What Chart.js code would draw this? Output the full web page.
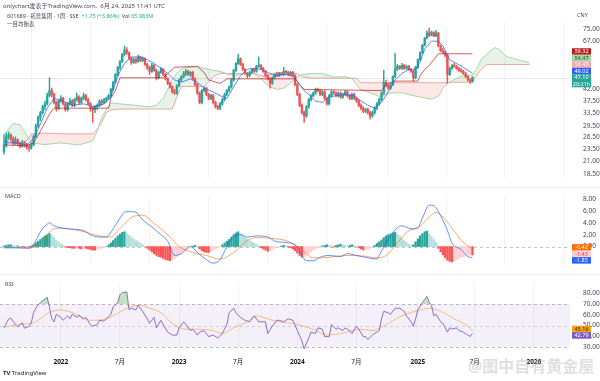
<!DOCTYPE html>
<html><head><meta charset="utf-8">
<script src="https://cdn.jsdelivr.net/npm/chart.js@4.4.1/dist/chart.umd.min.js"></script>
<style>
html,body{margin:0;padding:0;background:#fff;}
#wrap{position:relative;width:600px;height:381px;overflow:hidden;font-family:"Noto Sans","Noto Sans CJK SC",sans-serif;background:#fff;}
canvas{position:absolute;left:0;}
.t{position:absolute;white-space:nowrap;color:#131722;line-height:8px;}
.sep{position:absolute;left:0;width:600px;height:1px;background:#eceef2;}
</style></head><body>
<div id="wrap">
<canvas id="c1" width="600" height="187" style="top:0"></canvas>
<canvas id="c2" width="600" height="87" style="top:187px"></canvas>
<canvas id="c3" width="600" height="107" style="top:274px"></canvas>
<div class="sep" style="top:187px"></div>
<div class="sep" style="top:274px"></div>
<div class="t" style="left:3px;top:2px;font-size:6px;color:#434651">onlychart发表于TradingView.com,&nbsp; 6月 24, 2025 11:41 UTC</div>
<div class="t" style="left:7px;top:12px;font-size:5.5px;color:#434651">601689 · 拓普集团 · 1周 · SSE&nbsp;&nbsp;<span style="color:#22ab94">+1.75 (+3.86%)</span>&nbsp;&nbsp;Vol <span style="color:#22ab94">65.983M</span></div>
<div class="t" style="left:7px;top:20px;font-size:5.5px;color:#434651">一目均衡表</div>
<div class="t" style="left:577px;top:11px;font-size:5.5px;color:#434651">CNY</div>
<div class="t" style="left:5px;top:192px;font-size:5.5px;color:#434651">MACD</div>
<div class="t" style="left:5px;top:280px;font-size:5.5px;color:#434651">RSI</div>
<div class="t" style="left:3px;top:369px;font-size:6px;font-weight:bold;color:#131722">TV <span style="font-weight:normal">TradingView</span></div>
<div class="t" style="left:468px;top:356px;font-size:16px;line-height:20px;font-weight:bold;color:rgba(175,175,175,0.4)">@图中自有黄金屋</div>
</div>
<script>
// ---------- candles (weekly, week index = array position) ----------
const opens = [
23.0,24.5,26.5,27.0,26.0,25.0,25.8,24.8,24.2,25.0,
24.5,24.0,23.8,24.5,26.5,29.5,32.0,33.5,35.5,36.5,
39.5,41.5,40.0,37.0,35.0,37.5,38.5,36.5,34.5,36.5,
37.5,36.0,38.0,39.0,37.0,38.5,39.5,38.0,36.5,35.0,
34.5,35.5,36.0,37.5,37.0,38.0,38.5,39.5,42.0,45.0,
48.5,52.0,55.0,59.0,61.5,60.0,57.0,54.5,56.0,55.0,
57.5,55.5,56.5,53.5,52.0,50.0,53.0,50.5,47.0,49.5,
51.0,48.5,46.5,44.5,43.0,41.0,40.5,43.5,46.0,47.5,
49.0,50.0,48.5,49.5,46.5,44.0,40.5,37.0,41.5,42.5,
40.0,38.5,39.5,37.0,35.5,35.0,36.5,38.0,40.0,41.5,
43.0,46.0,50.5,54.0,56.5,53.5,51.0,49.0,48.0,49.5,
51.0,50.0,52.5,53.0,51.5,50.0,48.0,46.5,44.5,47.0,
48.5,48.0,49.0,48.5,50.0,49.5,48.5,49.5,48.0,44.0,
40.0,36.0,33.5,32.5,35.5,38.0,39.5,40.5,42.0,41.5,
40.0,41.0,38.5,36.5,39.5,41.0,40.5,39.5,40.5,39.0,
40.0,41.0,39.5,38.5,40.0,38.5,37.5,36.0,35.0,34.0,
34.5,33.5,32.5,33.5,35.0,36.5,38.0,40.5,45.0,43.5,
42.5,44.0,47.5,51.0,52.5,51.5,53.0,51.5,52.5,51.0,
50.0,47.0,52.0,56.0,60.0,64.5,69.0,72.5,71.0,73.0,
70.5,72.5,64.0,61.0,60.0,58.5,48.5,51.5,53.0,52.5,
51.5,50.5,50.0,49.0,47.5,46.0,45.35];
const highs = [
27.0,27.5,27.8,27.3,26.5,26.5,26.0,25.2,25.6,25.4,
24.9,24.6,25.0,27.0,30.0,32.5,34.0,36.0,37.5,40.5,
47.0,42.5,40.5,37.5,38.0,39.5,39.0,37.0,37.0,38.5,
38.0,38.5,40.5,39.5,39.0,40.5,40.0,38.5,37.0,35.5,
36.0,36.5,38.0,38.0,38.5,39.0,40.0,42.5,45.5,49.0,
52.5,55.5,59.5,64.0,63.0,60.5,57.5,57.0,57.0,58.5,
58.0,57.5,57.0,54.0,52.5,54.0,53.5,51.0,50.0,52.0,
51.5,49.0,47.0,45.0,43.5,42.0,44.0,46.5,48.0,50.0,
51.0,50.5,50.0,50.0,47.0,44.5,41.0,42.0,43.0,43.0,
40.5,40.0,40.0,37.5,36.0,37.0,38.5,40.5,42.0,43.5,
46.5,51.0,54.5,59.0,57.0,54.0,51.5,49.5,50.0,51.5,
51.5,53.0,57.5,53.5,52.0,50.5,48.5,47.0,47.5,49.0,
49.5,49.5,49.5,52.0,50.5,50.0,50.0,50.0,48.5,44.5,
40.5,36.5,34.0,36.0,38.5,40.0,41.0,42.5,42.5,42.0,
41.5,41.5,39.0,40.0,41.5,41.5,41.0,41.0,41.0,40.5,
41.5,41.5,40.0,40.5,40.5,39.0,38.0,36.5,35.5,35.0,
35.0,34.0,34.0,35.5,37.0,38.5,41.0,50.5,46.0,44.0,
44.5,48.0,59.5,53.5,53.0,54.0,53.5,53.0,53.0,51.5,
50.5,52.5,56.5,60.5,65.0,69.5,74.0,76.0,74.0,73.5,
74.5,73.0,64.5,62.5,61.0,59.0,52.0,53.5,54.0,53.0,
52.0,51.5,50.5,49.5,48.0,46.5,47.5];
const lows = [
22.4,24.0,25.8,25.5,24.5,24.6,24.3,23.8,24.0,24.0,
23.5,23.0,23.5,24.3,26.3,29.0,31.0,33.0,34.5,36.0,
39.0,39.0,36.5,34.0,34.5,37.0,36.0,34.0,34.0,36.0,
35.5,35.5,37.5,36.5,36.5,38.0,37.5,36.0,34.0,30.5,
33.5,34.5,35.5,36.0,36.5,37.0,38.0,39.0,41.5,44.5,
48.0,51.0,54.5,58.0,59.0,56.0,53.5,54.0,54.0,54.5,
55.0,55.0,53.0,51.0,48.5,49.5,50.0,46.0,46.5,49.0,
48.0,46.0,44.0,42.5,40.5,40.0,40.0,43.0,45.5,47.0,
48.0,48.0,47.5,46.0,43.5,40.0,36.5,36.5,41.0,39.5,
38.0,38.0,36.5,35.0,34.5,34.5,36.0,37.5,39.5,41.0,
42.5,45.5,50.0,53.5,53.0,50.5,48.5,47.0,47.5,49.0,
49.5,49.5,52.0,51.0,49.5,47.5,46.0,42.5,44.0,46.5,
47.5,47.5,48.0,48.0,49.0,48.0,48.0,47.5,43.5,39.5,
35.5,33.0,30.5,32.0,35.0,37.5,39.0,40.0,41.0,39.5,
39.5,38.0,36.0,36.0,39.0,40.0,39.0,39.0,38.5,38.5,
39.5,39.0,38.0,38.0,38.0,37.0,35.5,34.5,33.5,33.5,
33.0,31.5,32.0,33.0,34.5,36.0,37.5,40.0,43.0,42.0,
42.0,43.5,47.0,50.5,51.0,51.0,51.0,51.0,50.5,49.5,
45.5,46.5,51.5,55.5,59.5,64.0,68.5,70.0,70.5,70.0,
70.0,63.5,60.5,59.5,57.5,44.5,48.0,51.0,52.0,51.0,
50.0,49.5,48.5,47.0,45.5,44.5,45.0];
const closes = [
24.5,26.5,27.0,26.0,25.0,25.8,24.8,24.2,25.0,24.5,
24.0,23.8,24.5,26.5,29.5,32.0,33.5,35.5,36.5,39.5,
41.5,40.0,37.0,35.0,37.5,38.5,36.5,34.5,36.5,37.5,
36.0,38.0,39.0,37.0,38.5,39.5,38.0,36.5,35.0,34.5,
35.5,36.0,37.5,37.0,38.0,38.5,39.5,42.0,45.0,48.5,
52.0,55.0,59.0,61.5,60.0,57.0,54.5,56.0,55.0,57.5,
55.5,56.5,53.5,52.0,50.0,53.0,50.5,47.0,49.5,51.0,
48.5,46.5,44.5,43.0,41.0,40.5,43.5,46.0,47.5,49.0,
50.0,48.5,49.5,46.5,44.0,40.5,37.0,41.5,42.5,40.0,
38.5,39.5,37.0,35.5,35.0,36.5,38.0,40.0,41.5,43.0,
46.0,50.5,54.0,56.5,53.5,51.0,49.0,48.0,49.5,51.0,
50.0,52.5,53.0,51.5,50.0,48.0,46.5,44.5,47.0,48.5,
48.0,49.0,48.5,50.0,49.5,48.5,49.5,48.0,44.0,40.0,
36.0,33.5,32.5,35.5,38.0,39.5,40.5,42.0,41.5,40.0,
41.0,38.5,36.5,39.5,41.0,40.5,39.5,40.5,39.0,40.0,
41.0,39.5,38.5,40.0,38.5,37.5,36.0,35.0,34.0,34.5,
33.5,32.5,33.5,35.0,36.5,38.0,40.5,45.0,43.5,42.5,
44.0,47.5,51.0,52.5,51.5,53.0,51.5,52.5,51.0,50.0,
47.0,52.0,56.0,60.0,64.5,69.0,72.5,71.0,73.0,70.5,
72.5,64.0,61.0,60.0,58.5,48.5,51.5,53.0,52.5,51.5,
50.5,50.0,49.0,47.5,46.0,45.35,47.10];

// ---------- Ichimoku (sparse weeks) ----------
const tenkanWeeks = [0,5,10,13,16,19,22,26,30,35,40,44,47,49,51,53,56,60,63,66,69,72,75,78,82,85,88,92,95,98,101,104,107,110,113,116,119,122,125,128,130,132,134,137,140,143,146,150,154,157,160,163,166,169,172,175,178,181,183,185,188,191,193,196,199,202,206];
const tenkanVals = [25.3,25,24.5,26,30,35,38.5,37.5,36,36.5,35.5,36.5,39,45,50,54,57.5,57.5,56,54,51.5,49,46,45,46.5,45,42.5,41,39.5,38.5,43,48,51,51.5,51,49.5,48,48.5,48.5,47,44,41.5,40,37.5,37,39,39.5,40,39.5,37.5,36,35,37,41,46,49,51,51,55,62,67,67,64,56,54,52,49.02];
const kijunWeeks = [0,10,13,16,20,22,46,47,49,51,70,72,75,85,88,90,95,98,128,130,132,166,168,172,182,183,185,187,189,191,206];
const kijunVals = [24.5,24.3,25,28,33,35,35,38.5,41.5,47,47,49,52,52.5,49.5,46,44.5,46.5,46.5,44,42,41.5,44,45.5,45.5,48,51,53,56,59.32,59.32];
const cloudWeeks = [0,4,7,10,12,18,25,33,39,41,43,45,47,51,60,64,67,70,72,74,76,78,80,85,88,90,92,95,99,102,106,110,113,115,117,120,123,126,129,131,135,140,145,150,153,155,157,160,165,170,175,180,185,188,191,193,195,197,200,203,206,208,210,212,213,216,218,221,224,227,231];
const spanA = [27.0,30.2,29.8,27.0,25.0,24.6,25.0,24.5,25.5,28.0,32.0,34.5,36.8,36.5,35.8,35.5,36.0,38.5,42.0,46.0,49.0,51.0,52.0,52.3,51.5,51.0,50.5,50.0,48.5,48.0,49.0,48.7,46.5,44.5,43.0,42.0,42.5,44.7,47.3,48.5,49.0,49.0,47.3,47.5,46.7,44.0,41.7,41.0,39.2,40.5,40.7,39.5,38.7,38.2,39.2,42.5,44.5,45.7,47.2,48.2,48.2,51.5,56.5,58.5,60.0,63.0,61.5,57.7,56.7,55.6,54.47];
const spanB = [24.8,24.8,25.0,25.5,27.3,27.5,27.3,27.3,27.3,28.5,30.5,33.5,34.5,34.7,34.7,34.7,34.7,34.7,34.7,34.7,39.0,43.2,43.2,43.2,43.2,45.2,47.5,49.0,49.0,49.0,49.0,49.0,48.0,47.2,48.8,49.3,49.3,49.3,49.0,47.5,46.8,46.8,46.8,46.8,46.8,46.8,44.8,44.8,44.8,44.8,44.8,44.8,44.8,44.8,44.8,44.8,44.8,45.0,45.0,45.0,45.0,48.5,51.0,53.2,53.45,53.45,53.45,53.45,53.45,53.45,53.45];

// ---------- MACD ----------
const macdWeeks = [0,5,11,13,16,19,20,22,28,35,38,42,45,48,51,53,55,58,61,66,69,72,75,78,82,85,89,92,95,98,101,104,107,111,116,120,124,129,131,133,136,139,143,148,151,155,160,164,165,168,171,175,179,182,184,187,189,192,195,197,201,204,206];
const macdVals = [-0.2,-0.2,-0.3,0.3,2.5,3.8,4.0,3.5,3.0,2.7,2.0,1.6,1.6,3.0,4.8,5.8,5.9,5.8,4.5,3.0,2.0,0.9,-1.5,-1.2,0.0,-1.0,-2.2,-2.8,-2.2,-0.1,1.7,2.0,1.6,1.8,1.6,0.8,0.7,-0.1,-1.5,-2.4,-2.4,-1.8,-1.5,-1.7,-1.2,-1.5,-1.9,-2.1,-1.5,0.6,2.4,3.5,3.0,3.2,4.8,7.0,6.9,5.2,2.7,0.6,-0.5,-1.7,-1.85];
const signalWeeks = [0,11,16,19,22,25,33,42,47,51,57,61,66,72,77,83,89,95,101,107,111,117,124,130,133,136,140,145,151,158,164,168,173,177,183,187,190,193,197,202,206];
const signalVals = [-0.2,-0.2,0.3,2.0,3.0,3.1,2.7,1.8,1.6,3.1,5.1,5.3,3.9,2.0,0.0,-1.0,-1.5,-2.1,-1.0,1.0,1.5,1.4,1.0,-0.2,-1.2,-1.9,-1.9,-1.7,-1.5,-1.6,-1.9,-1.5,0.6,2.4,3.4,5.0,5.8,5.0,3.1,0.7,-0.42];
const histVals = [
0.1,0.2,0.3,0.3,0.2,
0.1,0.1,0.05,-0.05,-0.1,-0.05,-0.1,
0.1,0.3,0.6,0.9,1.2,1.5,1.8,2.0,2.2,
1.9,1.5,1.1,0.8,0.5,0.2,
-0.1,-0.2,-0.2,-0.3,-0.3,-0.2,-0.3,-0.4,-0.3,-0.3,-0.4,-0.5,-0.6,-0.6,-0.5,-0.4,-0.3,-0.2,0.0,
0.3,0.6,1.0,1.4,1.8,2.1,
2.4,2.5,
2.2,1.9,1.6,1.3,1.0,0.8,0.6,0.3,0.1,
-0.3,-0.6,-0.9,-1.2,-1.5,-1.7,-1.8,-2.0,-2.2,-2.3,
-2.4,-2.2,-2.0,
-1.7,-1.4,-1.1,-0.8,-0.5,-0.3,-0.1,0.1,
0.2,0.1,
-0.4,-0.7,-0.9,-1.0,-1.0,-0.8,
-0.6,-0.4,-0.2,-0.05,
0.3,0.6,0.9,1.2,1.6,2.0,2.3,2.5,2.2,
1.9,1.6,1.3,1.0,0.8,0.6,0.4,0.2,
-0.2,-0.4,-0.6,-0.8,-0.7,
-0.5,-0.3,-0.2,-0.1,0.1,
0.2,0.1,-0.1,-0.2,
-0.4,-0.7,-1.1,-1.5,-1.8,
-1.7,-1.5,
-1.2,-0.9,-0.6,-0.4,-0.2,-0.1,
0.1,0.2,0.3,0.2,0.1,-0.1,0.2,0.3,0.4,0.3,0.2,0.1,0.2,0.3,0.2,0.1,-0.2,-0.4,-0.6,-0.5,-0.4,
-0.3,-0.1,0.2,
0.5,0.8,1.1,1.5,1.8,2.0,2.1,2.3,2.4,
2.1,1.8,1.4,1.0,0.7,0.4,0.2,
0.3,0.8,1.3,1.8,2.2,2.5,2.6,
2.2,1.7,1.2,0.7,
-0.3,-0.9,-1.4,-1.9,-2.3,-2.5,-2.6,
-2.4,-2.2,-2.0,-1.8,-1.7,-1.6,-1.5,-1.4,-1.43];

// ---------- RSI ----------
const rsiWeeks = [0,2,3,5,6,8,9,11,12,13,14,15,16,17,19,20,21,22,23,25,26,28,29,30,32,33,35,36,38,39,41,42,44,45,47,48,50,51,52,54,55,56,58,59,61,63,64,66,67,69,70,72,74,76,77,79,80,82,83,85,86,88,90,92,94,96,98,99,101,102,104,106,108,110,112,115,116,118,120,121,123,125,127,129,131,132,134,135,137,138,140,141,143,144,146,147,149,150,152,153,155,156,158,159,160,162,163,165,166,167,169,170,172,174,176,177,179,180,181,182,184,185,186,187,188,189,190,192,193,195,196,197,199,200,202,204,205,206];
const rsiVals = [48,56,57,51,48.8,52.6,47.6,49.3,52.6,62,66,69,71,73,76,67,56.2,53.5,60.4,57.6,54.9,59,56.2,60.4,57.6,59.5,56.2,57.6,50.9,49.5,50.9,54.9,54.1,56.2,60.4,67.2,71.3,78.3,80.4,81,64.5,66,64.5,68.6,63.1,56.2,52.1,57.6,48,54.9,50.9,44,41.3,41.3,48,53.5,50.9,45.4,46.7,41.3,44,45.4,39.9,41.3,38.6,42.7,50.9,61.8,66,61.8,57.6,54.9,53.5,59,53.5,53.5,42.7,49.5,54.9,54.9,53.5,56.2,54.9,45.4,35.9,28.7,38.6,44,42.7,48,46.7,39.9,39.9,50.9,46.7,48,45.4,48,45.4,42.7,49.5,46.7,39.9,39.9,37.2,41.3,42.7,45.4,56.2,63.1,61.8,60.4,66,66,63.1,59,53.5,49.5,56.2,64.5,71.4,74.1,76.9,71.4,68.6,59,60.4,53.5,52.1,44,48,46.7,48,45.4,44,41.3,39.9,42.79];
const rsiMaWeeks = [0,6,13,20,25,30,38,42,48,54,60,64,69,74,80,86,92,96,101,107,111,116,121,127,129,136,142,148,157,162,168,175,183,187,192,198,204,206];
const rsiMaVals = [48.5,51,52.6,62.2,64.5,62,54.9,55,59,66,68.6,66,61.8,52,46.7,46.7,45.4,42.7,48,53.5,59,56.2,53.5,52,51,46.7,41.3,42.7,46.7,45.4,50.9,59,64.5,66,63.1,56.2,49.5,45.16];

// ---------- axes ----------
const xTickWeeks = [25,51,77,103,129,155,182,207,233];
const xTickLabels = ['2022','7月','2023','7月','2024','7月','2025','7月','2026'];
const priceTicks = [18.5,21,23.5,26.5,29.5,33.5,37.5,42,67,75];
const macdTicks = [0,2,4,6,8];
const rsiTicks = [30,40,50,60,70,80];
const countdownText = '20:21h';

Chart.defaults.font.family = '"Noto Sans","Noto Sans CJK SC",sans-serif';
const UP = '#26a69a', DN = '#ef5350';
const pts = (ws, vs) => ws.map((w, i) => ({x: w, y: vs[i]}));
const candleColor = ctx => closes[ctx.dataIndex] >= opens[ctx.dataIndex] ? UP : DN;

function xScale(show){
  return {type:'linear', min:-1.76, max:248.9, offset:false,
    grid:{color:'#f2f3f6', drawTicks:false, lineWidth:1},
    border:{display:false},
    afterBuildTicks: s => { s.ticks = xTickWeeks.map(v => ({value:v})); },
    ticks:{display:show, autoSkip:false, maxRotation:0, padding:5, color:'#131722',
      font: c => ({size:6.5, weight: /^\d{4}$/.test(xTickLabels[c.index]) ? 'bold' : 'normal'}),
      callback: (v, i) => xTickLabels[i]},
    afterFit: s => { s.height = show ? 28 : 0; }
  };
}
function yScale(extra, ticks){
  return Object.assign({position:'right', grid:{display:false}, border:{display:false},
    afterBuildTicks: s => { s.ticks = ticks.map(v => ({value:v})); },
    ticks:{autoSkip:false, padding:5, color:'#434651', font:{size:6.5}, callback: v => Number(v).toFixed(2)},
    afterFit: s => { s.width = 30; }}, extra);
}
function labelsPlugin(id, items, mode){
  return {id, afterDraw(chart){
    const ys = chart.scales.y, ctx = chart.ctx, h = 6.5;
    const arr = items.map(it => Object.assign({}, it, {y: ys.getPixelForValue(it.v)})).sort((a,b) => a.y - b.y);
    if (mode === 'up') {
      for (let i = arr.length - 2; i >= 0; i--) if (arr[i].y > arr[i+1].y - h) arr[i].y = arr[i+1].y - h;
    } else {
      const m0 = arr.reduce((s,a) => s + a.y, 0) / arr.length;
      for (let i = 1; i < arr.length; i++) if (arr[i].y < arr[i-1].y + h) arr[i].y = arr[i-1].y + h;
      const m1 = arr.reduce((s,a) => s + a.y, 0) / arr.length;
      arr.forEach(a => a.y += m0 - m1);
    }
    ctx.save();
    ctx.font = '5.5px "Noto Sans"'; ctx.textAlign = 'center'; ctx.textBaseline = 'middle';
    const x0 = chart.chartArea.right + 2, w = 19;
    arr.forEach(a => {
      const hh = a.extra ? 2*h : h;
      ctx.fillStyle = a.bg; ctx.fillRect(x0, a.y - h/2, w, hh);
      ctx.fillStyle = a.fg; ctx.fillText(a.v.toFixed(2), x0 + w/2, a.y + 0.3);
      if (a.extra) ctx.fillText(a.extra, x0 + w/2, a.y + h + 0.3);
    });
    ctx.restore();
  }};
}
function hLine(chart, v, color, dash){
  const y = chart.scales.y.getPixelForValue(v), a = chart.chartArea, ctx = chart.ctx;
  ctx.save(); ctx.strokeStyle = color; ctx.lineWidth = 1; ctx.setLineDash(dash);
  ctx.beginPath(); ctx.moveTo(a.left, Math.round(y) + 0.5); ctx.lineTo(a.right, Math.round(y) + 0.5); ctx.stroke(); ctx.restore();
}
const common = {responsive:false, animation:false, events:[], plugins:{legend:{display:false}, tooltip:{enabled:false}}};
const line = (data, color, order, extra) => Object.assign({type:'line', data, borderColor:color, borderWidth:1, pointRadius:0, tension:0, fill:false, order}, extra || {});

// ---------- main chart ----------
new Chart(document.getElementById('c1'), {
  type:'bar',
  data:{datasets:[
    line(pts(cloudWeeks, spanA), '#a5d6a7', 10, {fill:{target:'+1', above:'rgba(67,160,71,0.13)', below:'rgba(244,67,54,0.12)'}}),
    line(pts(cloudWeeks, spanB), '#f4a9a9', 11),
    {type:'bar', data: opens.map((o,i) => ({x:i, y:[lows[i], highs[i]]})), backgroundColor:candleColor, barThickness:0.8, grouped:false, borderWidth:0, order:6},
    {type:'bar', data: opens.map((o,i) => ({x:i, y:[o, closes[i]]})), backgroundColor:candleColor, barThickness:1.7, grouped:false, borderWidth:0, minBarLength:0.8, order:5},
    line(pts(kijunWeeks, kijunVals), 'rgba(183,28,28,0.7)', 2),
    line(pts(tenkanWeeks, tenkanVals), 'rgba(41,98,255,0.75)', 1)
  ]},
  options:Object.assign({}, common, {layout:{padding:{top:22, bottom:0, left:0, right:0}},
    scales:{x:xScale(false), y:yScale({type:'logarithmic', min:17.77, max:80.7}, priceTicks)}}),
  plugins:[
    {id:'priceLine', beforeDatasetsDraw(c){ hLine(c, closes[closes.length-1], 'rgba(120,123,134,0.18)', []); }},
    labelsPlugin('mainLabels', [
      {v:kijunVals[kijunVals.length-1], bg:'#b71c1c', fg:'#fff'},
      {v:spanA[spanA.length-1], bg:'#a5d6a7', fg:'#1b5e20'},
      {v:spanB[spanB.length-1], bg:'#f4a9a9', fg:'#fff'},
      {v:tenkanVals[tenkanVals.length-1], bg:'#2962ff', fg:'#fff'},
      {v:closes[closes.length-1], bg:'#26a69a', fg:'#fff', extra:countdownText}
    ], 'up')
  ]
});

// ---------- MACD ----------
const histColor = ctx => { const i = ctx.dataIndex, v = histVals[i], p = i > 0 ? histVals[i-1] : 0;
  return v >= 0 ? (v >= p ? '#26a69a' : '#b2dfdb') : (v <= p ? '#ff5252' : '#ffcdd2'); };
new Chart(document.getElementById('c2'), {
  type:'bar',
  data:{datasets:[
    line(pts(macdWeeks, macdVals), 'rgba(41,98,255,0.7)', 1, {cubicInterpolationMode:'monotone'}),
    line(pts(signalWeeks, signalVals), 'rgba(255,109,0,0.6)', 2, {cubicInterpolationMode:'monotone'}),
    {type:'bar', data: histVals.map((v,i) => ({x:i, y:v})), backgroundColor:histColor, barThickness:1.6, grouped:false, borderWidth:0, order:3}
  ]},
  options:Object.assign({}, common, {layout:{padding:{top:1, bottom:2, left:0, right:0}},
    scales:{x:xScale(false), y:yScale({type:'linear', min:-3.13, max:8.55}, macdTicks)}}),
  plugins:[
    {id:'zero', beforeDatasetsDraw(c){ hLine(c, 0, 'rgba(120,123,134,0.45)', [3,3]); }},
    labelsPlugin('macdLabels', [
      {v:signalVals[signalVals.length-1], bg:'#ff6d00', fg:'#fff'},
      {v:histVals[histVals.length-1], bg:'#ffcdd2', fg:'#e53935'},
      {v:macdVals[macdVals.length-1], bg:'#2962ff', fg:'#fff'}
    ], 'center')
  ]
});

// ---------- RSI ----------
new Chart(document.getElementById('c3'), {
  type:'line',
  data:{datasets:[
    line(pts(rsiWeeks, rsiVals), 'rgba(126,87,194,0.85)', 1, {fill:{target:{value:70}, above:'rgba(76,175,80,0.35)', below:'rgba(0,0,0,0)'}}),
    line(pts(rsiMaWeeks, rsiMaVals), 'rgba(245,170,90,0.75)', 2, {cubicInterpolationMode:'monotone'})
  ]},
  options:Object.assign({}, common, {layout:{padding:{top:1, bottom:0, left:0, right:0}},
    scales:{x:xScale(true), y:yScale({type:'linear', min:24.8, max:89.3}, rsiTicks)}}),
  plugins:[
    {id:'band', beforeDatasetsDraw(c){
      const ys = c.scales.y, a = c.chartArea, ctx = c.ctx;
      const y70 = ys.getPixelForValue(70), y30 = ys.getPixelForValue(30);
      ctx.save(); ctx.fillStyle = 'rgba(126,87,194,0.09)'; ctx.fillRect(a.left, y70, a.right - a.left, y30 - y70); ctx.restore();
      hLine(c, 70, 'rgba(120,123,134,0.5)', [3,3]);
      hLine(c, 50, 'rgba(120,123,134,0.3)', [3,3]);
      hLine(c, 30, 'rgba(120,123,134,0.5)', [3,3]);
    }},
    labelsPlugin('rsiLabels', [
      {v:rsiMaVals[rsiMaVals.length-1], bg:'#f7a21b', fg:'#3a2a00'},
      {v:rsiVals[rsiVals.length-1], bg:'#7e57c2', fg:'#fff'}
    ], 'center')
  ]
});
</script>
</body></html>
